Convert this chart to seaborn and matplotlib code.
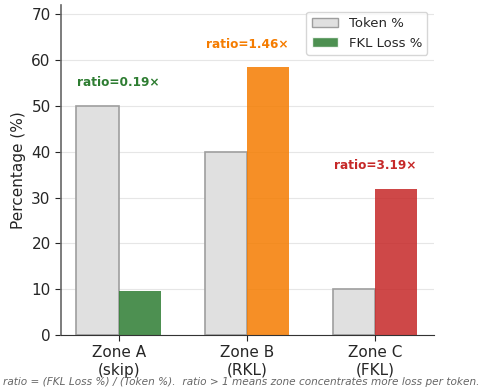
import pandas as pd
import seaborn as sns
import matplotlib.pyplot as plt

# donnees
zones = ["Zone A\n(skip)", "Zone B\n(RKL)", "Zone C\n(FKL)"]
token_pct = [50.0, 40.0, 10.0]
fkl_pct = [9.7, 58.4, 31.9]
ratios = [0.19, 1.46, 3.19]
zone_colors = ["#2e7d32", "#f57c00", "#c62828"]

df = pd.DataFrame({
    "zone": zones * 2,
    "serie": ["Token %"] * 3 + ["FKL Loss %"] * 3,
    "valeur": token_pct + fkl_pct,
})

sns.set_style("white")
fig = plt.figure(figsize=(4.81, 3.90), dpi=100)
ax = fig.add_axes([0.127, 0.141, 0.775, 0.846])

sns.barplot(data=df, x="zone", y="valeur", hue="serie", ax=ax,
            palette={"Token %": "#e0e0e0", "FKL Loss %": zone_colors[0]},
            width=0.66, saturation=1)

# couleurs des barres : token gris avec bord, FKL couleur par zone
bars = ax.containers
for p in bars[0]:
    p.set_facecolor("#e0e0e0")
    p.set_edgecolor("#9e9e9e")
    p.set_linewidth(1.2)
for p, c in zip(bars[1], zone_colors):
    p.set_facecolor(c)
    p.set_alpha(0.85)
    p.set_edgecolor("none")

# annotations ratio
for i in range(3):
    y = max(token_pct[i], fkl_pct[i]) + 5
    ax.text(i, y, f"ratio={ratios[i]:.2f}\u00d7", ha="center", va="center",
            color=zone_colors[i], fontsize=8.7, fontweight="bold")

ax.set_xlim(-0.45, 2.46)
ax.set_ylim(0, 72)
ax.set_xlabel("")
ax.set_ylabel("Percentage (%)", fontsize=11)
ax.tick_params(axis="both", labelsize=11, length=4, left=True, bottom=True)
ax.yaxis.grid(True, color="#e6e6e6", linewidth=0.8)
ax.set_axisbelow(True)
sns.despine(ax=ax)
ax.spines["left"].set_color("#666666")
ax.spines["left"].set_linewidth(1.2)
ax.spines["bottom"].set_color("#333333")

# legende
h, l = ax.get_legend_handles_labels()
h[1].set_facecolor(zone_colors[0])
ax.legend(h, l, loc="upper right", fontsize=9.5, frameon=True)
leg = ax.get_legend()
leg.legend_handles[0].set_edgecolor("#9e9e9e")
leg.legend_handles[1].set_alpha(0.85)

fig.text(3 / 481, 0.012, "ratio = (FKL Loss %) / (Token %).  ratio > 1 means zone concentrates more loss per token.",
         ha="left", fontsize=7.6, style="italic", color="#666666")

fig.savefig("out.png", dpi=100)
